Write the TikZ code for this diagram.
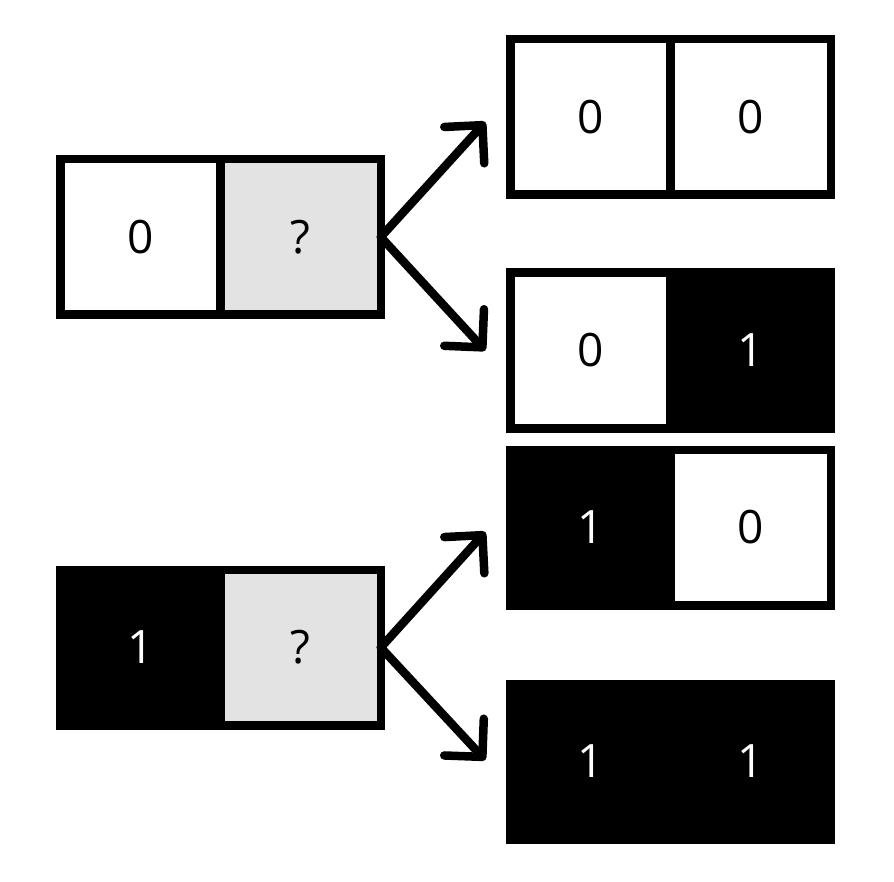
\documentclass[tikz,border=0pt]{standalone}
\usepackage{fontspec}
\setmainfont{Open Sans}
\usetikzlibrary{positioning,arrows.meta}
\tikzset{
cell/.style={draw=black,line width=8.5pt,outer sep=0pt,inner sep=0pt,
minimum width=160.25pt,minimum height=155.5pt,font=\fontsize{46}{48}\selectfont},
zero/.style={fill=white},
one/.style={fill=black,text=white},
unknown/.style={fill=black!11},
branch/.style={-{Straight Barb[length=27pt,width=54pt,round]},line width=8.5pt,line cap=round}
}

\begin{document}
\begin{tikzpicture}[x=1pt,y=-1pt]
\useasboundingbox (0,0) rectangle (894,882);
% partial strings
\node[cell,zero] (a0) at (140.4,237) {0};
\node[cell,unknown,right=0pt of a0] (aq) {?};
\node[cell,one] (b1) at (140.4,647.5) {1};
\node[cell,unknown,right=0pt of b1] (bq) {?};
% completions
\node[cell,zero] (r00a) at (590.4,117) {0};
\node[cell,zero,right=0pt of r00a] (r00b) {0};
\node[cell,zero] (r01a) at (590.4,350.5) {0};
\node[cell,one,right=0pt of r01a] (r01b) {1};
\node[cell,one] (r10a) at (590.4,527.5) {1};
\node[cell,zero,right=0pt of r10a] (r10b) {0};
\node[cell,one] (r11a) at (590.4,761.5) {1};
\node[cell,one,right=0pt of r11a] (r11b) {1};
% branches
\draw[branch] (aq.east) -- ([xshift=-25pt,yshift=-5pt]r00a.west);
\draw[branch] (aq.east) -- ([xshift=-25pt]r01a.west);
\draw[branch] (bq.east) -- ([xshift=-25pt,yshift=-4.5pt]r10a.west);
\draw[branch] (bq.east) -- ([xshift=-25pt,yshift=1.5pt]r11a.west);
\end{tikzpicture}
\end{document}
